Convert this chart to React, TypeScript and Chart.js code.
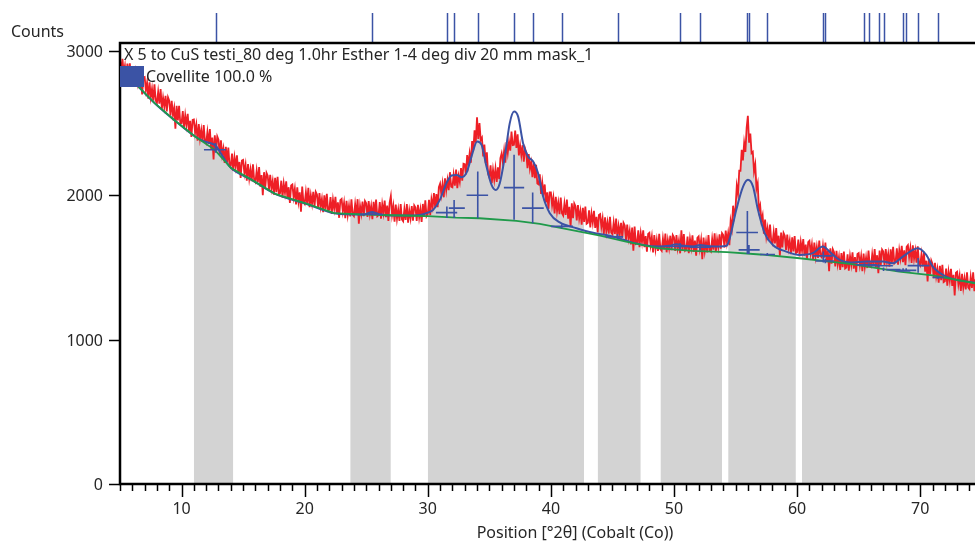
import React, { useEffect, useRef } from "react";
import { Chart, registerables } from "chart.js";
Chart.register(...registerables);

// Observed scan: start angle and step (°2θ), counts per step
const observedStart = 5;
const observedStep = 0.1;
const observedCounts = [
  2945, 2843, 2946, 2849, 2897, 2800, 2913, 2811, 2914, 2792,
  2795, 2878, 2756, 2849, 2782, 2860, 2738, 2811, 2699, 2817,
  2820, 2728, 2781, 2669, 2782, 2680, 2738, 2656, 2769, 2657,
  2640, 2717, 2634, 2736, 2598, 2675, 2612, 2689, 2581, 2678,
  2655, 2552, 2655, 2558, 2605, 2462, 2620, 2518, 2620, 2497,
  2500, 2583, 2461, 2554, 2487, 2565, 2443, 2516, 2404, 2522,
  2525, 2435, 2489, 2378, 2493, 2393, 2452, 2371, 2486, 2376,
  2360, 2438, 2356, 2459, 2322, 2400, 2248, 2416, 2309, 2407,
  2385, 2280, 2380, 2280, 2325, 2225, 2335, 2230, 2330, 2205,
  2205, 2289, 2169, 2263, 2198, 2277, 2157, 2231, 2121, 2240,
  2245, 2155, 2211, 2101, 2217, 2117, 2178, 2098, 2214, 2104,
  2090, 2170, 2090, 2195, 2060, 2140, 2000, 2160, 2055, 2155,
  2135, 2036, 2142, 2048, 2099, 2005, 2121, 2022, 2128, 2009,
  2015, 2101, 1983, 2080, 2016, 2097, 1979, 2056, 1947, 2068,
  2075, 1987, 2045, 1937, 2055, 1957, 2020, 1887, 2060, 1952,
  1940, 2022, 1944, 2051, 1918, 2000, 1942, 2024, 1921, 2023,
  2005, 1907, 2015, 1922, 1975, 1883, 2000, 1902, 2010, 1893,
  1900, 1988, 1871, 1969, 1907, 1990, 1873, 1951, 1844, 1967,
  1975, 1889, 1948, 1842, 1961, 1865, 1929, 1853, 1972, 1866,
  1855, 1939, 1864, 1973, 1803, 1927, 1872, 1956, 1856, 1960,
  1945, 1850, 1960, 1870, 1925, 1835, 1955, 1860, 1970, 1855,
  1863, 1953, 1838, 1938, 1878, 1963, 1848, 1928, 1823, 1948,
  1995, 1867, 1925, 1817, 1935, 1837, 1900, 1822, 1940, 1832,
  1820, 1905, 1830, 1940, 1810, 1895, 1840, 1925, 1825, 1930,
  1915, 1822, 1934, 1846, 1903, 1815, 1940, 1850, 1965, 1855,
  1870, 1969, 1863, 1972, 1921, 2015, 1914, 2008, 1917, 2056,
  2080, 2007, 2079, 1986, 2118, 2035, 2105, 2035, 2160, 2060,
  2055, 2141, 2067, 2178, 2049, 2135, 2092, 2189, 2101, 2218,
  2215, 2144, 2278, 2212, 2291, 2225, 2375, 2310, 2450, 2365,
  2540, 2390, 2500, 2383, 2399, 2270, 2351, 2222, 2298, 2149,
  2125, 2207, 2084, 2176, 2108, 2185, 2092, 2194, 2111, 2258,
  2290, 2227, 2309, 2226, 2368, 2295, 2372, 2309, 2441, 2348,
  2350, 2449, 2328, 2422, 2276, 2345, 2276, 2347, 2233, 2324,
  2295, 2188, 2286, 2184, 2227, 2125, 2229, 2118, 2212, 2081,
  2075, 2145, 2010, 2090, 2010, 2075, 1950, 2020, 1905, 2020,
  2020, 1930, 1985, 1875, 1990, 1890, 1950, 1870, 1985, 1875,
  1860, 1942, 1864, 1971, 1838, 1920, 1782, 1944, 1841, 1943,
  1925, 1826, 1933, 1839, 1891, 1797, 1914, 1815, 1922, 1803,
  1810, 1896, 1778, 1874, 1811, 1893, 1774, 1851, 1742, 1864,
  1870, 1782, 1839, 1731, 1848, 1750, 1812, 1734, 1851, 1743,
  1730, 1811, 1733, 1839, 1706, 1787, 1729, 1810, 1707, 1808,
  1790, 1691, 1797, 1703, 1754, 1660, 1776, 1617, 1783, 1664,
  1670, 1757, 1640, 1737, 1675, 1757, 1640, 1717, 1610, 1732,
  1740, 1653, 1712, 1605, 1724, 1627, 1691, 1614, 1733, 1626,
  1615, 1700, 1625, 1735, 1605, 1690, 1635, 1720, 1620, 1725,
  1710, 1615, 1724, 1634, 1688, 1598, 1757, 1622, 1731, 1616,
  1625, 1714, 1599, 1698, 1638, 1722, 1607, 1686, 1581, 1705,
  1715, 1631, 1691, 1557, 1707, 1613, 1678, 1604, 1724, 1620,
  1610, 1697, 1624, 1736, 1608, 1695, 1642, 1729, 1631, 1738,
  1725, 1638, 1756, 1674, 1737, 1655, 1821, 1772, 1928, 1859,
  1915, 2065, 2010, 2170, 2170, 2315, 2242, 2364, 2301, 2468,
  2550, 2364, 2428, 2292, 2301, 2165, 2213, 2046, 2084, 1897,
  1930, 1823, 1861, 1734, 1832, 1715, 1771, 1687, 1798, 1684,
  1665, 1746, 1667, 1773, 1639, 1720, 1581, 1742, 1638, 1739,
  1720, 1622, 1728, 1635, 1686, 1593, 1709, 1611, 1717, 1599,
  1605, 1693, 1577, 1675, 1614, 1697, 1581, 1659, 1553, 1676,
  1685, 1599, 1659, 1553, 1673, 1577, 1642, 1566, 1686, 1580,
  1570, 1649, 1568, 1672, 1536, 1615, 1474, 1633, 1527, 1626,
  1605, 1507, 1615, 1522, 1575, 1483, 1600, 1502, 1610, 1493,
  1500, 1591, 1477, 1578, 1519, 1605, 1491, 1572, 1468, 1594,
  1600, 1517, 1578, 1475, 1596, 1503, 1569, 1496, 1617, 1514,
  1505, 1591, 1517, 1628, 1499, 1585, 1461, 1617, 1518, 1624,
  1610, 1516, 1627, 1538, 1594, 1505, 1626, 1532, 1643, 1529,
  1540, 1632, 1519, 1621, 1563, 1650, 1537, 1619, 1516, 1643,
  1655, 1572, 1634, 1531, 1653, 1560, 1617, 1534, 1646, 1533,
  1515, 1591, 1508, 1609, 1471, 1547, 1404, 1560, 1452, 1548,
  1525, 1426, 1532, 1438, 1489, 1395, 1511, 1412, 1518, 1399,
  1405, 1492, 1374, 1471, 1408, 1490, 1372, 1449, 1306, 1463,
  1470, 1384, 1443, 1337, 1456, 1360, 1424, 1348, 1467, 1361,
  1350, 1434, 1358, 1467, 1336, 1420,
];

// Background (green)
const backgroundX = [5, 5.9, 6.5, 7.8, 9.4, 11.1, 12.7, 14.0, 15.7, 17.6, 20.0, 22.4, 25, 28, 30, 32.3, 34.2, 37.2, 39.1, 41.3, 44, 46.1, 48.8, 51.5, 54.3, 57, 60.2, 64.3, 68.3, 71, 74.5];
const backgroundCounts = [2880, 2815, 2753, 2640, 2522, 2407, 2315, 2190, 2107, 2010, 1945, 1876, 1866, 1860, 1855, 1845, 1841, 1823, 1802, 1765, 1720, 1679, 1633, 1615, 1606, 1590, 1564, 1525, 1471, 1445, 1390];

// Calculated profile (blue)
const calcX = [5, 5.9, 6.5, 7.8, 9.4, 11.1, 11.8, 12.3, 12.76, 13.2, 13.6, 14.0, 15.7, 17.6, 20.0, 22.4, 24.8, 25.5, 26.2, 28, 29.36, 30.0, 30.44, 30.98, 31.52, 31.93, 32.34, 32.74, 33.15, 33.55, 34.01, 34.37, 34.77, 35.18, 35.52, 35.85, 36.26, 36.66, 37.01, 37.34, 37.74, 38.15, 38.56, 38.96, 39.37, 39.91, 40.72, 42.08, 43.43, 44.78, 46.14, 47.49, 48.84, 49.6, 50.19, 50.8, 51.54, 52.12, 52.7, 53.71, 54.26, 54.52, 55.06, 55.61, 56.01, 56.42, 56.82, 57.37, 58.03, 59.12, 60.21, 61.28, 62.09, 62.77, 63.45, 64.27, 65.62, 66.97, 67.78, 68.59, 69.40, 69.81, 70.49, 71.02, 72.11, 74.5];
const calcCounts = [2880, 2815, 2753, 2640, 2522, 2407, 2375, 2362, 2345, 2290, 2235, 2190, 2107, 2010, 1945, 1876, 1866, 1885, 1864, 1860, 1864, 1880, 1899, 1968, 2084, 2137, 2141, 2125, 2157, 2268, 2372, 2349, 2199, 2072, 2037, 2084, 2268, 2500, 2580, 2545, 2361, 2268, 2234, 2153, 1991, 1876, 1812, 1772, 1740, 1720, 1685, 1656, 1645, 1650, 1660, 1650, 1645, 1656, 1648, 1645, 1650, 1700, 1900, 2060, 2107, 2060, 1899, 1737, 1656, 1610, 1587, 1599, 1645, 1599, 1552, 1534, 1541, 1541, 1529, 1575, 1622, 1633, 1587, 1506, 1437, 1393];

// Fitted ranges (gray)
const rangeStart = [10.95, 23.7, 29.95, 43.77, 48.83, 54.35, 60.34];
const rangeEnd = [14.25, 27.03, 42.74, 47.32, 53.92, 59.99, 74.5];

// Peak markers (crosses)
const markerPos = [12.76, 25.51, 31.55, 32.14, 34.06, 37.01, 38.52, 40.88, 45.42, 50.49, 52.12, 55.96, 56.09, 57.58, 62.13, 62.29, 65.47, 65.82, 66.63, 67.02, 68.61, 68.86, 69.83, 71.45];
const markerTop = [2363, 1885, 1922, 1968, 2164, 2280, 2019, 1800, 1730, 1670, 1660, 1892, 1656, 1600, 1610, 1560, 1530, 1530, 1525, 1500, 1495, 1495, 1566, 1440];
const markerBottom = [2294, 1862, 1843, 1843, 1841, 1830, 1807, 1770, 1695, 1622, 1618, 1594, 1594, 1580, 1534, 1530, 1505, 1505, 1500, 1476, 1470, 1470, 1464, 1420];
const markerHalf = [2315, 1869, 1880, 1911, 2000, 2053, 1911, 1785, 1712, 1645, 1640, 1742, 1622, 1590, 1580, 1545, 1518, 1518, 1512, 1485, 1476, 1480, 1513, 1430];
const markerLeft = [11.82, 24.5, 30.66, 31.71, 33.15, 36.18, 37.66, 40.0, 44.5, 49.38, 51.3, 55.06, 55.25, 57.0, 61.26, 61.5, 64.81, 65.2, 66.0, 67.24, 68.0, 68.3, 68.98, 71.0];
const markerRight = [13.61, 26.35, 32.39, 33.01, 34.9, 37.83, 39.42, 41.8, 45.86, 51.54, 53.0, 56.82, 56.96, 58.2, 62.89, 63.0, 66.1, 66.5, 67.78, 68.4, 69.2, 69.68, 70.76, 71.9];

// Reference pattern (Covellite) positions
const refPeaks = [12.76, 25.51, 31.55, 32.14, 34.06, 37.01, 38.52, 40.88, 45.42, 50.49, 52.12, 55.96, 56.09, 57.58, 62.13, 62.29, 65.47, 65.82, 66.63, 67.02, 68.61, 68.86, 69.83, 71.45];

const yTicks = [0, 1000, 2000, 3000];
const xLabels = [10, 20, 30, 40, 50, 60, 70];

const scanTitle = "X 5 to CuS testi_80 deg 1.0hr Esther 1-4 deg div 20 mm mask_1";
const phaseLabel = "Covellite 100.0 %";
const xTitle = "Position [°2θ] (Cobalt (Co))";
const yTitle = "Counts";

const RED = "#ee1f26";
const BLUE = "#3b53a5";
const GREEN = "#1f9a4a";
const GRAY = "#d3d3d3";
const TEXT = "#262626";
const FONT = '16px "Noto Sans"';

export default function App() {
  const ref = useRef<HTMLCanvasElement>(null);
  useEffect(() => {
    const observed = observedCounts.map((c, i) => ({ x: +(observedStart + observedStep * i).toFixed(2), y: c }));
    const bg = backgroundX.map((x, i) => ({ x, y: backgroundCounts[i] }));
    const calc = calcX.map((x, i) => ({ x, y: calcCounts[i] }));
    const markers: any[] = [];
    markerPos.forEach((p, i) => {
      markers.push({ x: p, y: markerBottom[i] }, { x: p, y: markerTop[i] }, { x: p, y: null });
      markers.push({ x: markerLeft[i], y: markerHalf[i] }, { x: markerRight[i], y: markerHalf[i] }, { x: markerRight[i], y: null });
    });
    const grayDs = rangeStart.map((s, k) => ({
      label: "range" + k,
      data: observed.filter((p) => p.x >= s - 0.001 && p.x <= rangeEnd[k] + 0.001),
      borderWidth: 0,
      borderColor: "rgba(0,0,0,0)",
      backgroundColor: GRAY,
      fill: "origin",
      pointRadius: 0,
    }));

    const decor = {
      id: "decor",
      afterDatasetsDraw(chart: any) {
        const { ctx, chartArea: a, scales } = chart;
        const xs = scales.x;
        const ys = scales.y;
        ctx.save();
        // reference peaks
        ctx.strokeStyle = BLUE;
        ctx.lineWidth = 1.5;
        refPeaks.forEach((p) => {
          const px = Math.round(xs.getPixelForValue(p)) + 0.5;
          ctx.beginPath();
          ctx.moveTo(px, 13);
          ctx.lineTo(px, a.top);
          ctx.stroke();
        });
        // frame
        ctx.strokeStyle = "#000";
        ctx.lineWidth = 2.5;
        ctx.beginPath();
        ctx.moveTo(a.right + 5, a.top);
        ctx.lineTo(a.left, a.top);
        ctx.lineTo(a.left, a.bottom);
        ctx.lineTo(a.right + 5, a.bottom);
        ctx.stroke();
        // y ticks
        ctx.lineWidth = 1.5;
        ctx.fillStyle = TEXT;
        ctx.font = FONT;
        ctx.textAlign = "right";
        ctx.textBaseline = "middle";
        yTicks.forEach((v) => {
          const py = Math.round(ys.getPixelForValue(v)) + 0.5;
          ctx.beginPath();
          ctx.moveTo(a.left - 11, py);
          ctx.lineTo(a.left, py);
          ctx.stroke();
          ctx.fillText(String(v), a.left - 17, py + 1);
        });
        // x ticks
        ctx.textAlign = "center";
        for (let v = Math.ceil(xs.min); v <= xs.max; v++) {
          const px = Math.round(xs.getPixelForValue(v)) + 0.5;
          const major = v % 10 === 0;
          ctx.beginPath();
          ctx.moveTo(px, a.bottom);
          ctx.lineTo(px, a.bottom + (major ? 13 : 7));
          ctx.stroke();
        }
        xLabels.forEach((v) => {
          ctx.fillText(String(v), xs.getPixelForValue(v), a.bottom + 25);
        });
        ctx.fillText(xTitle, 575, 533);
        ctx.textAlign = "left";
        ctx.fillText(yTitle, 11, 32);
        ctx.fillText(scanTitle, a.left + 4, 55);
        ctx.fillText(phaseLabel, a.left + 26, 77);
        ctx.fillStyle = BLUE;
        ctx.fillRect(a.left, 66, 24, 21);
        ctx.restore();
      },
    };

    const chart = new Chart(ref.current!, {
      type: "line",
      data: {
        datasets: [
          {
            label: "markers",
            data: markers,
            borderColor: BLUE,
            borderWidth: 1.6,
            pointRadius: 0,
            spanGaps: false,
            fill: false,
          },
          {
            label: "background",
            data: bg,
            borderColor: GREEN,
            borderWidth: 1.8,
            pointRadius: 0,
            fill: false,
          },
          {
            label: "calculated",
            data: calc,
            borderColor: BLUE,
            borderWidth: 2,
            pointRadius: 0,
            cubicInterpolationMode: "monotone",
            fill: false,
          },
          {
            label: "observed",
            data: observed,
            borderColor: RED,
            borderWidth: 1.8,
            pointRadius: 0,
            fill: false,
          },
          ...grayDs,
        ] as any,
      },
      options: {
        animation: false,
        responsive: false,
        maintainAspectRatio: false,
        layout: { padding: { left: 120, top: 43, right: 0, bottom: 58 } },
        plugins: { legend: { display: false }, tooltip: { enabled: false } },
        scales: {
          x: { type: "linear", min: 5, max: 74.45, display: false },
          y: { type: "linear", min: 0, max: 3055, display: false },
        },
      } as any,
      plugins: [decor],
    });
    return () => chart.destroy();
  }, []);

  return (
    <div style={{ position: "fixed", left: 0, top: 0, width: 975, height: 542, background: "#fff" }}>
      <canvas ref={ref} width={975} height={542} style={{ display: "block", width: 975, height: 542 }} />
    </div>
  );
}
